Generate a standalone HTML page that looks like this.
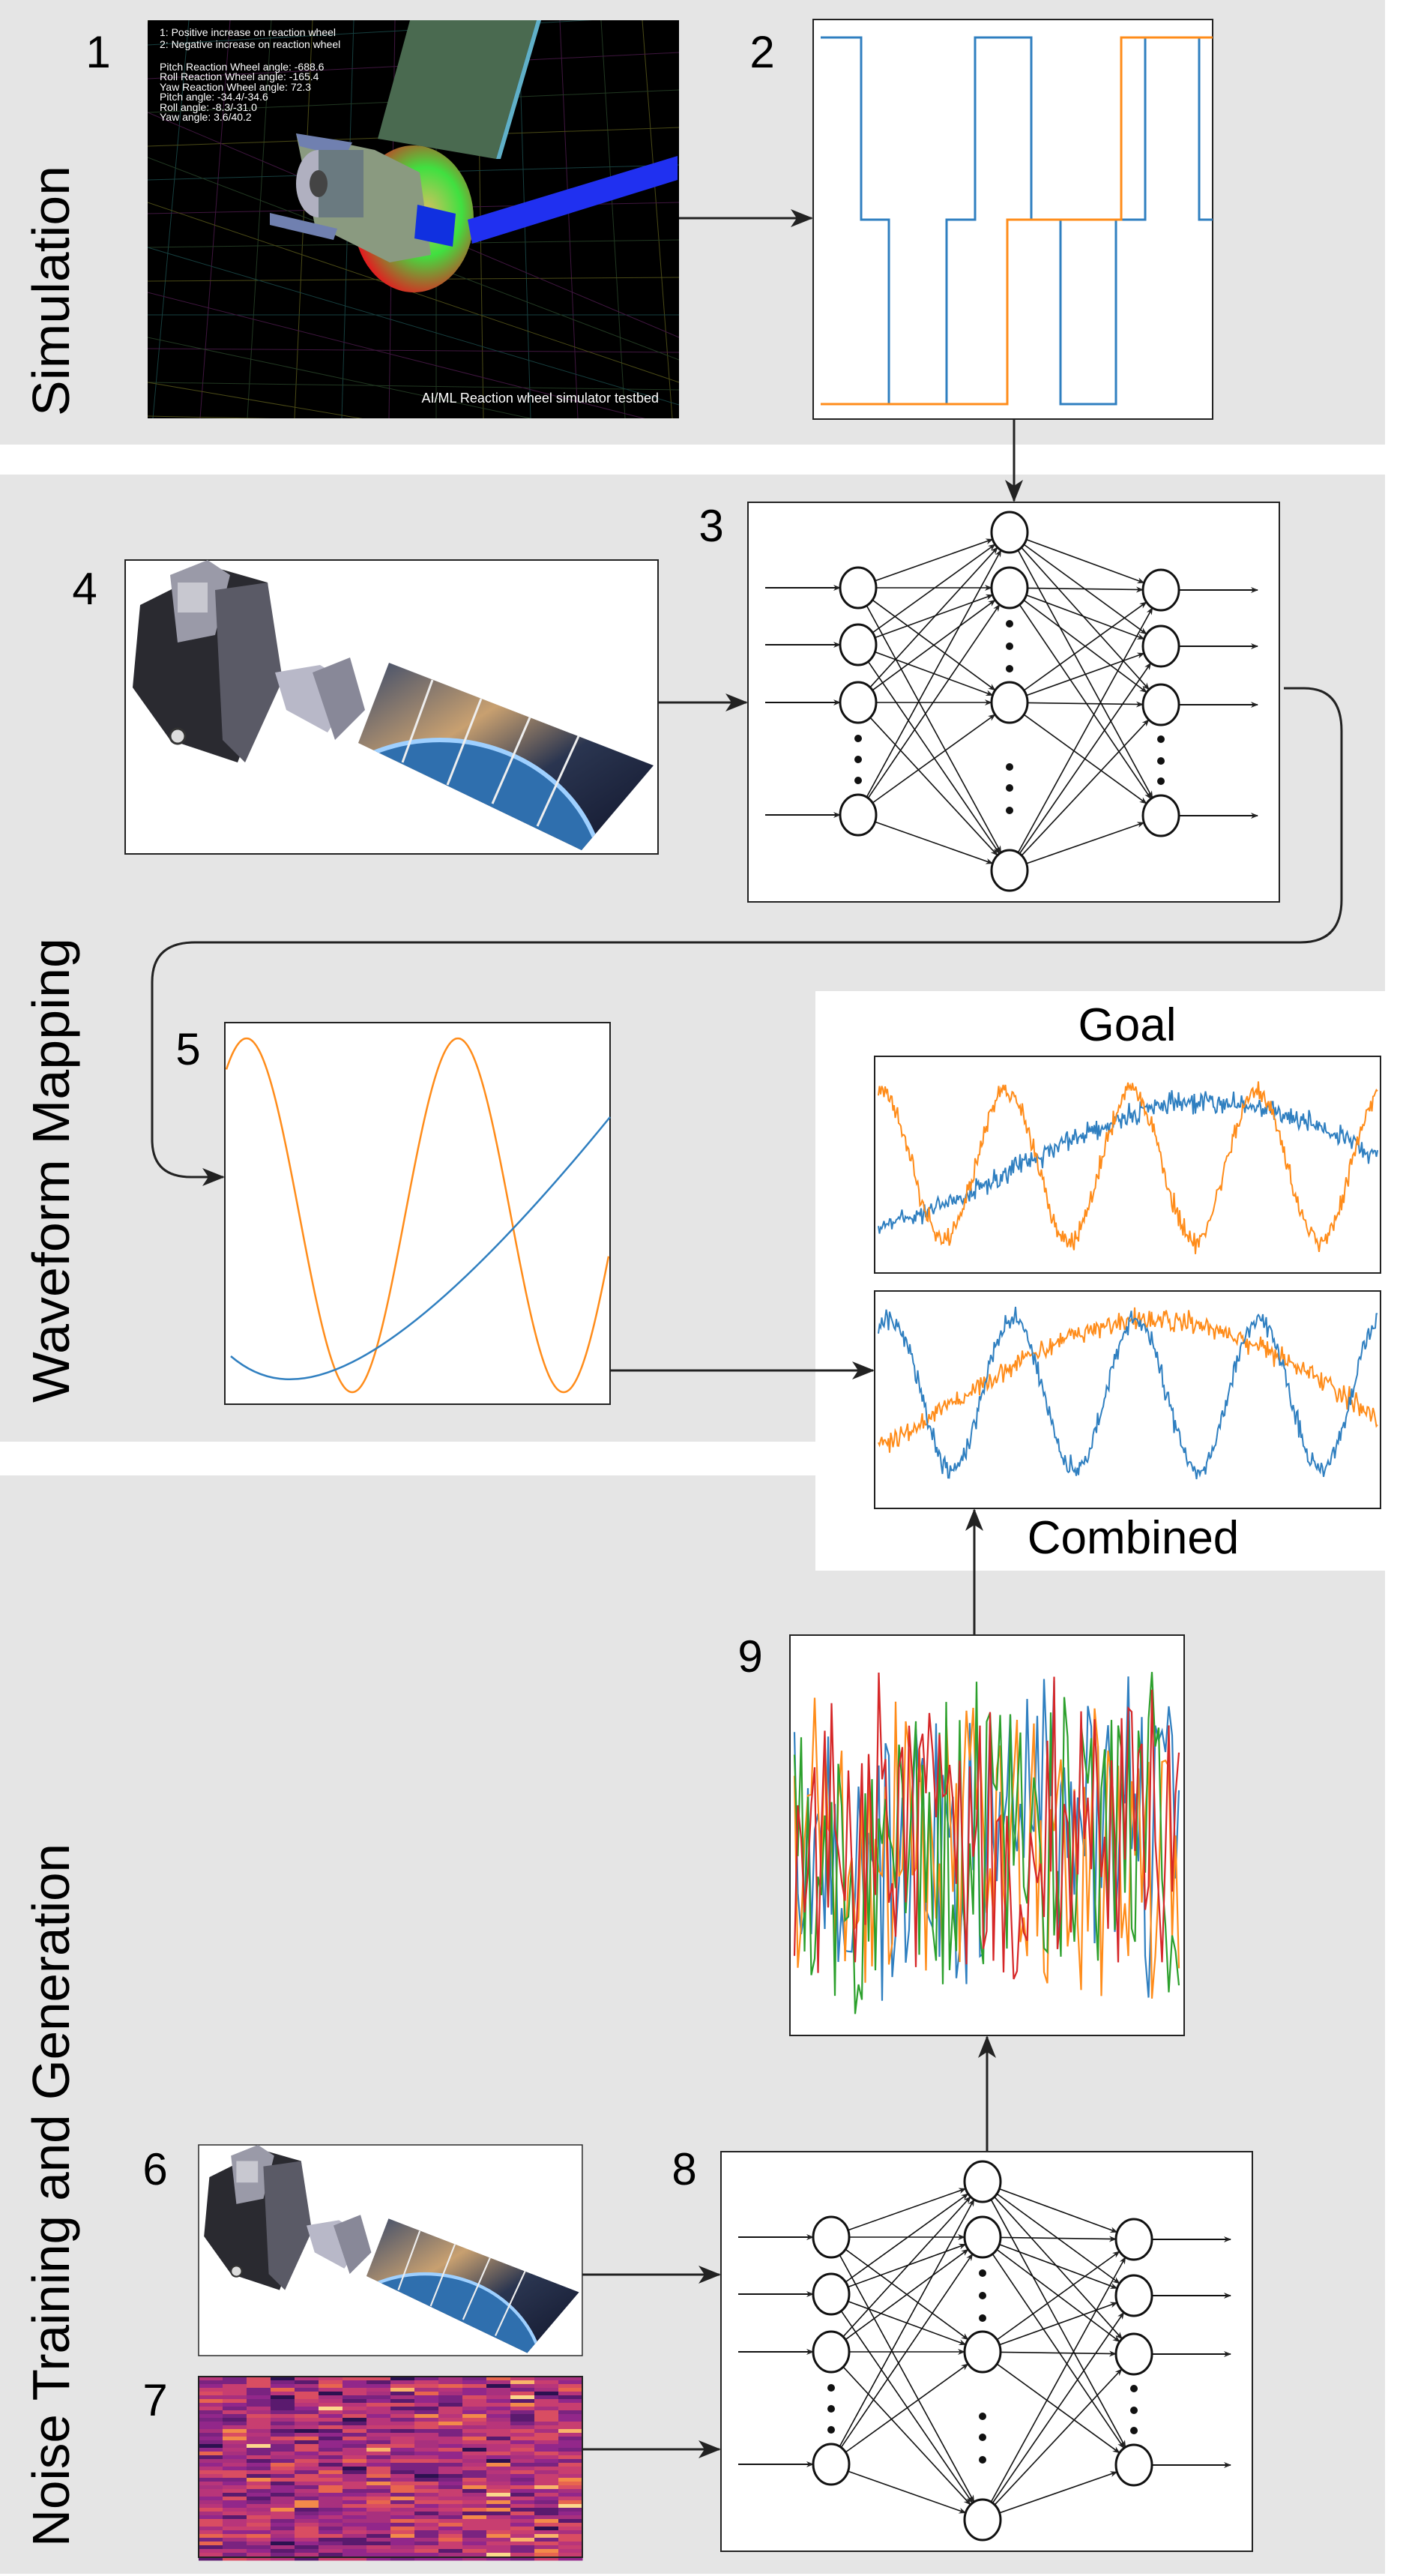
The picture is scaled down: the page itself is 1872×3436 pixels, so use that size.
<!DOCTYPE html>
<html><head><meta charset="utf-8">
<style>
html,body{margin:0;padding:0;background:#fff;}
svg{display:block;}
text{font-family:"Liberation Sans",sans-serif;}
</style></head>
<body>
<svg id="s" xmlns="http://www.w3.org/2000/svg" width="1872" height="3436" viewBox="0 0 1872 3436">
<defs>
<marker id="ah" markerWidth="10" markerHeight="8" refX="9" refY="4" orient="auto" markerUnits="userSpaceOnUse" viewBox="0 0 10 8">
<path d="M0,0 L10,4 L0,8 L3,4 z" fill="#222"/></marker>
<marker id="AH" viewBox="0 0 30 24" refX="28" refY="12" markerWidth="30" markerHeight="24" orient="auto" markerUnits="userSpaceOnUse">
<path d="M0,0 L30,12 L0,24 L8,12 z" fill="#222"/></marker>
<radialGradient id="wheel" cx="0.6" cy="0.45" r="0.6">
<stop offset="0" stop-color="#d8c060"/><stop offset="0.5" stop-color="#40e040"/><stop offset="1" stop-color="#e02020"/></radialGradient>
<linearGradient id="panel" x1="0" y1="0" x2="1" y2="1">
<stop offset="0" stop-color="#3a4a6a"/><stop offset="0.35" stop-color="#c8a070"/><stop offset="0.6" stop-color="#2a3550"/><stop offset="1" stop-color="#10142a"/></linearGradient>
<clipPath id="pclip"><polygon points="352,137 705,274 609,387 311,244"/></clipPath>
<clipPath id="img1"><rect x="197" y="27" width="709" height="531"/></clipPath>
<g id="sat">
<rect x="0" y="0" width="711" height="392" fill="#fff" stroke="#222" stroke-width="2"/>
<polygon points="20,60 120,10 190,30 200,140 150,270 60,240 10,170" fill="#2a2a30"/>
<polygon points="60,20 110,0 140,20 120,100 70,110" fill="#9a9aa8"/>
<rect x="70" y="30" width="40" height="40" fill="#c8c8d0"/>
<polygon points="120,40 190,30 210,160 160,270 130,240" fill="#5a5a66"/>
<polygon points="200,150 260,140 310,170 270,230 215,200" fill="#b8b8c8"/>
<polygon points="250,150 300,130 320,200 280,240" fill="#888898"/>
<circle cx="70" cy="235" r="10" fill="#ddd" stroke="#333" stroke-width="3"/>
<polygon points="352,137 705,274 609,387 311,244" fill="url(#panel)"/>
<g clip-path="url(#pclip)"><ellipse cx="420" cy="440" rx="220" ry="200" fill="#2f6fae"/><ellipse cx="420" cy="440" rx="220" ry="200" fill="none" stroke="#9fd0ff" stroke-width="6"/></g>
<g stroke="#eee" stroke-width="3"><line x1="410" y1="160" x2="370" y2="270"/><line x1="475" y1="185" x2="430" y2="300"/><line x1="540" y1="210" x2="490" y2="325"/><line x1="605" y1="235" x2="550" y2="355"/></g>
</g>
</defs>

<rect x="0" y="0" width="1848" height="593" fill="#e5e5e5"/>
<path d="M0,633 H1848 V1322 H1088 V1923 H0 Z" fill="#e5e5e5"/>
<path d="M0,1968 H1088 V2095 H1848 V3433 H0 Z" fill="#e5e5e5"/>

<text transform="translate(92,388) rotate(-90)" font-size="70" text-anchor="middle" textLength="334" lengthAdjust="spacingAndGlyphs">Simulation</text>
<text transform="translate(92,1561) rotate(-90)" font-size="70" text-anchor="middle" textLength="620" lengthAdjust="spacingAndGlyphs">Waveform Mapping</text>
<text transform="translate(92,2928) rotate(-90)" font-size="70" text-anchor="middle" textLength="938" lengthAdjust="spacingAndGlyphs">Noise Training and Generation</text>

<g font-size="60" text-anchor="middle">
<text x="131" y="90">1</text><text x="1017" y="90">2</text><text x="949" y="722">3</text>
<text x="113" y="806">4</text><text x="251" y="1420">5</text><text x="207" y="2914">6</text>
<text x="207" y="3222">7</text><text x="913" y="2914">8</text><text x="1001" y="2230">9</text>
</g>

<g clip-path="url(#img1)">
<rect x="197" y="27" width="709" height="531" fill="#000"/>
<g id="grid" stroke-width="1" opacity="0.7"></g>
<polygon points="547,27 716,27 662,212 504,185" fill="#4a6a50"/>
<polygon points="716,27 722,27 668,212 662,212" fill="#60b0c8"/>
<ellipse cx="552" cy="292" rx="80" ry="98" fill="url(#wheel)"/>
<polygon points="395,178 500,200 560,230 575,340 520,350 420,300" fill="#8a9a80"/>
<polygon points="395,178 470,190 460,210 400,195" fill="#7080b0"/>
<polygon points="360,284 450,305 445,320 360,300" fill="#7080b0"/>
<ellipse cx="425" cy="245" rx="30" ry="45" fill="#b0b0c0"/>
<rect x="425" y="200" width="60" height="90" fill="#6a7a80"/>
<ellipse cx="425" cy="245" rx="12" ry="18" fill="#444"/>
<polygon points="557,273 608,285 604,329 553,318" fill="#1030e0"/>
<polygon points="624,293 904,208 904,240 630,325" fill="#2030f0"/>
<g fill="#fff" font-size="14">
<text x="213" y="48">1: Positive increase on reaction wheel</text>
<text x="213" y="64">2: Negative increase on reaction wheel</text>
<text x="213" y="94">Pitch Reaction Wheel angle: -688.6</text>
<text x="213" y="107">Roll Reaction Wheel angle: -165.4</text>
<text x="213" y="121">Yaw Reaction Wheel angle: 72.3</text>
<text x="213" y="134">Pitch angle: -34.4/-34.6</text>
<text x="213" y="148">Roll angle: -8.3/-31.0</text>
<text x="213" y="161">Yaw angle: 3.6/40.2</text>
<text x="879" y="537" font-size="18" text-anchor="end">AI/ML Reaction wheel simulator testbed</text>
</g>
</g>

<rect x="1085" y="26" width="533" height="533" fill="#fff" stroke="#222" stroke-width="2"/>
<polyline fill="none" stroke="#2f7fc0" stroke-width="3" points="1095,50 1149,50 1149,293 1186,293 1186,539 1263,539 1263,293 1301,293 1301,50 1376,50 1376,293 1415,293 1415,539 1489,539 1489,293 1528,293 1528,50 1600,50 1600,293 1618,293"/>
<polyline fill="none" stroke="#ff8c1a" stroke-width="3" points="1095,539 1344,539 1344,293 1496,293 1496,50 1618,50"/>

<g stroke="#222" stroke-width="3" fill="none">
<line x1="906" y1="291" x2="1083" y2="291" marker-end="url(#AH)"/>
<line x1="1353" y1="559" x2="1353" y2="668" marker-end="url(#AH)"/>
<line x1="878" y1="937" x2="996" y2="937" marker-end="url(#AH)"/>
<path d="M1713,918 H1740 Q1790,918 1790,975 V1200 Q1790,1257 1735,1257 H260 Q203,1257 203,1310 V1520 Q203,1570 255,1570 H298" marker-end="url(#AH)"/>
<line x1="814" y1="1828" x2="1165" y2="1828" marker-end="url(#AH)"/>
<line x1="1300" y1="2181" x2="1300" y2="2014" marker-end="url(#AH)"/>
<line x1="1317" y1="2870" x2="1317" y2="2717" marker-end="url(#AH)"/>
<line x1="777" y1="3034" x2="960" y2="3034" marker-end="url(#AH)"/>
<line x1="777" y1="3267" x2="960" y2="3267" marker-end="url(#AH)"/>
</g>

<g id="nn1" transform="translate(998,670)"></g>
<g id="nn2" transform="translate(962,2870)"></g>

<use href="#sat" transform="translate(167,747)"/>
<use href="#sat" transform="translate(265,2861) scale(0.72,0.717)"/>

<rect x="300" y="1364" width="514" height="509" fill="#fff" stroke="#222" stroke-width="2"/>
<path id="p5o" fill="none" stroke="#ff8c1a" stroke-width="2.5"/>
<path d="M308,1809 C380,1870 500,1875 814,1490" fill="none" stroke="#2f7fc0" stroke-width="2.5"/>

<text x="1504" y="1388" font-size="62" text-anchor="middle">Goal</text>
<rect x="1167" y="1409" width="675" height="289" fill="#fff" stroke="#222" stroke-width="2"/>
<rect x="1167" y="1722" width="675" height="290" fill="#fff" stroke="#222" stroke-width="2"/>
<g id="gc"></g>
<text x="1512" y="2072" font-size="62" text-anchor="middle">Combined</text>

<rect x="1054" y="2181" width="526" height="534" fill="#fff" stroke="#222" stroke-width="2"/>
<g id="n9"></g>

<g id="hm"></g>
<rect x="265" y="3170" width="512" height="241" fill="none" stroke="#222" stroke-width="2"/>
</svg>
<script>
var NS="http://www.w3.org/2000/svg";
function el(t,a,p){var e=document.createElementNS(NS,t);for(var k in a)e.setAttribute(k,a[k]);p.appendChild(e);return e;}
var seed=12345;function rnd(){seed=(seed*1103515245+12345)%2147483648;return seed/2147483648;}
function gauss(){return (rnd()+rnd()+rnd()-1.5)/0.866;}
var g=document.getElementById('grid');var cols=['#6a6a20','#205a5a','#5a205a','#305030'];
for(var i=0;i<14;i++){el('line',{x1:197+i*55,y1:27,x2:197+i*55+(i-7)*8,y2:558,stroke:cols[i%4]},g);}
for(var i=0;i<12;i++){el('line',{x1:197,y1:60+i*45,x2:906,y2:20+i*50,stroke:cols[(i+1)%4]},g);}
for(var i=0;i<8;i++){el('line',{x1:197,y1:150+i*60,x2:906,y2:450+i*30,stroke:cols[(i+2)%4]},g);}
function nn(id){var p=document.getElementById(id);
el('rect',{x:0,y:0,width:709,height:533,fill:'#fff',stroke:'#222','stroke-width':2},p);
var I=[[147,114],[147,190],[147,267],[147,417]],H=[[349,40],[349,114],[349,267],[349,491]],O=[[551,117],[551,192],[551,270],[551,418]];
var rx=24,ry=27;
function edge(a,b){var dx=b[0]-a[0],dy=b[1]-a[1];var L=Math.sqrt(dx*dx+dy*dy);
var x1=a[0]+rx*dx/L,y1=a[1]+ry*dy/L,x2=b[0]-rx*dx/L,y2=b[1]-ry*dy/L;
el('line',{x1:x1,y1:y1,x2:x2,y2:y2,stroke:'#111','stroke-width':1.6,'marker-end':'url(#ah)'},p);}
I.forEach(function(a){H.forEach(function(b){edge(a,b);});});
H.forEach(function(a){O.forEach(function(b){edge(a,b);});});
I.forEach(function(a){el('line',{x1:23,y1:a[1],x2:a[0]-rx,y2:a[1],stroke:'#111','stroke-width':2,'marker-end':'url(#ah)'},p);});
O.forEach(function(a){el('line',{x1:a[0]+rx,y1:a[1],x2:680,y2:a[1],stroke:'#111','stroke-width':2,'marker-end':'url(#ah)'},p);});
I.concat(H,O).forEach(function(a){el('ellipse',{cx:a[0],cy:a[1],rx:rx,ry:ry,fill:'#fff',stroke:'#111','stroke-width':3},p);});
[[147,315],[147,343],[147,371],[349,162],[349,192],[349,222],[349,353],[349,381],[349,411],[551,316],[551,345],[551,372]].forEach(function(d){el('circle',{cx:d[0],cy:d[1],r:5,fill:'#111'},p);});
}
nn('nn1');nn('nn2');
var d='';for(var x=302;x<=812;x+=2){var y=1621-236*Math.cos(2*Math.PI*(x-611)/282);d+=(x==302?'M':'L')+x+','+y.toFixed(1);}
document.getElementById('p5o').setAttribute('d',d);
var gc=document.getElementById('gc');
function noisy(x0,x1,yc,amp,per,ph,nz,col,top,bot){var d='';for(var x=x0;x<=x1;x+=1.5){var y=yc-amp*Math.cos(2*Math.PI*(x-ph)/per)+gauss()*nz;y=Math.max(top,Math.min(bot,y));d+=(x==x0?'M':'L')+x.toFixed(1)+','+y.toFixed(1);}
el('path',{d:d,fill:'none',stroke:col,'stroke-width':2},gc);}
noisy(1172,1838,1555,85,1000,1612,12,'#2f7fc0',1412,1695);
noisy(1172,1838,1555,100,167,1176,12,'#ff8c1a',1412,1695);
noisy(1172,1838,1860,100,1000,1540,12,'#ff8c1a',1725,2009);
noisy(1172,1838,1860,100,164,1188,12,'#2f7fc0',1725,2009);
var n9=document.getElementById('n9');
['#2f7fc0','#ff8c1a','#2ca02c','#d62728'].forEach(function(c){var d='';for(var x=1060;x<=1576;x+=4.5){var y=2460+(rnd()-0.5)*2*(140+rnd()*100);y=Math.max(2195,Math.min(2700,y));d+=(x==1060?'M':'L')+x.toFixed(1)+','+y.toFixed(1);}
el('path',{d:d,fill:'none',stroke:c,'stroke-width':2.2},n9);});
var hm=document.getElementById('hm');var pal=['#2c1150','#5a1a6e','#7a2380','#92278a','#a8307e','#b8357a','#c83e70','#d94d62','#e8654f','#f38a4a','#f9b46a','#fcd88c'];
var cw=32,rh=5;for(var c=0;c<16;c++){for(var r=0;r<49;r++){var v=rnd();var idx;if(v<0.02)idx=0;else if(v<0.1)idx=1;else if(v<0.9)idx=2+Math.floor(rnd()*6);else if(v<0.98)idx=8+Math.floor(rnd()*2);else idx=10+Math.floor(rnd()*2);
el('rect',{x:265+c*cw,y:3170+r*rh,width:cw+0.5,height:rh+0.5,fill:pal[idx]},hm);}}
</script>
</body></html>
